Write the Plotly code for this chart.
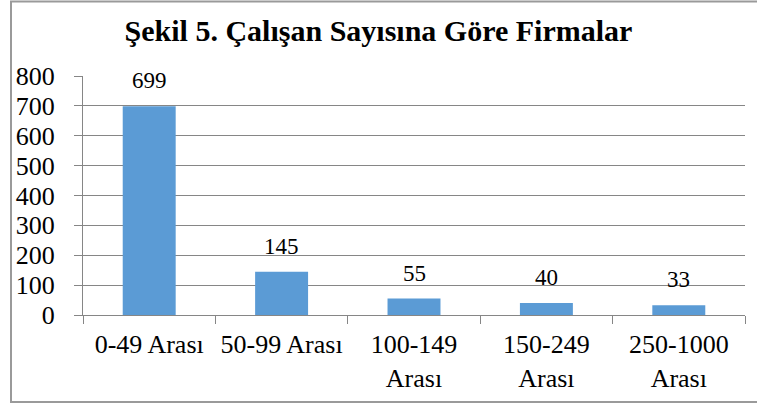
import plotly.graph_objects as go

categories = ["0-49 Arası", "50-99 Arası", "100-149<br>Arası", "150-249<br>Arası", "250-1000<br>Arası"]
values = [699, 145, 55, 40, 33]
y_ticks = [0, 100, 200, 300, 400, 500, 600, 700, 800]

W, H = 757, 405
L, R, T, B = 83, 12, 76, 90
pw, ph = W - L - R, H - T - B

def px_x(x):
    return (x - L) / pw

def px_y(y):
    return (H - B - y) / ph

FONT = "Liberation Serif"

fig = go.Figure(go.Bar(
    x=categories, y=values,
    marker=dict(color="#5B9BD5", line=dict(width=0)),
    cliponaxis=False,
))

annotations = [
    dict(x=c, y=v, xref="x", yref="y", text=str(v), showarrow=False,
         yanchor="bottom", yshift=11,
         font=dict(family=FONT, size=23, color="#000000"))
    for c, v in zip(categories, values)
]

fig.update_layout(
    width=W, height=H,
    margin=dict(l=L, r=R, t=T, b=B),
    paper_bgcolor="white", plot_bgcolor="white",
    bargap=0.6,
    showlegend=False,
    title=dict(text="<b>Şekil 5. Çalışan Sayısına Göre Firmalar</b>",
               x=0.5, xanchor="center", y=1 - 30 / H, yanchor="middle",
               font=dict(family=FONT, size=30, color="#000000")),
    font=dict(family=FONT, size=25, color="#000000"),
    annotations=annotations,
    shapes=[dict(type="rect", xref="paper", yref="paper",
                 x0=px_x(11), x1=px_x(770), y0=px_y(402), y1=px_y(1.5),
                 line=dict(color="#9A9A9A", width=2), fillcolor="rgba(0,0,0,0)",
                 layer="below")],
)

fig.update_xaxes(
    type="category", showline=True, linecolor="#868686", linewidth=1,
    ticks="outside", tickson="boundaries", ticklen=8, tickcolor="#868686",
    showgrid=False, tickfont=dict(family=FONT, size=26, color="#000000"),
    ticklabelstandoff=6, automargin=False,
)
fig.update_yaxes(
    range=[0, 800], tickvals=y_ticks, showline=True, linecolor="#868686", linewidth=1,
    ticks="outside", ticklen=8, tickcolor="#868686",
    showgrid=True, gridcolor="#868686", gridwidth=1, zeroline=False,
    tickfont=dict(family=FONT, size=26, color="#000000"),
    ticklabelstandoff=14, automargin=False,
)

fig.write_html("out.html", config={"displayModeBar": False},
               post_script="document.body.style.margin='0';")
